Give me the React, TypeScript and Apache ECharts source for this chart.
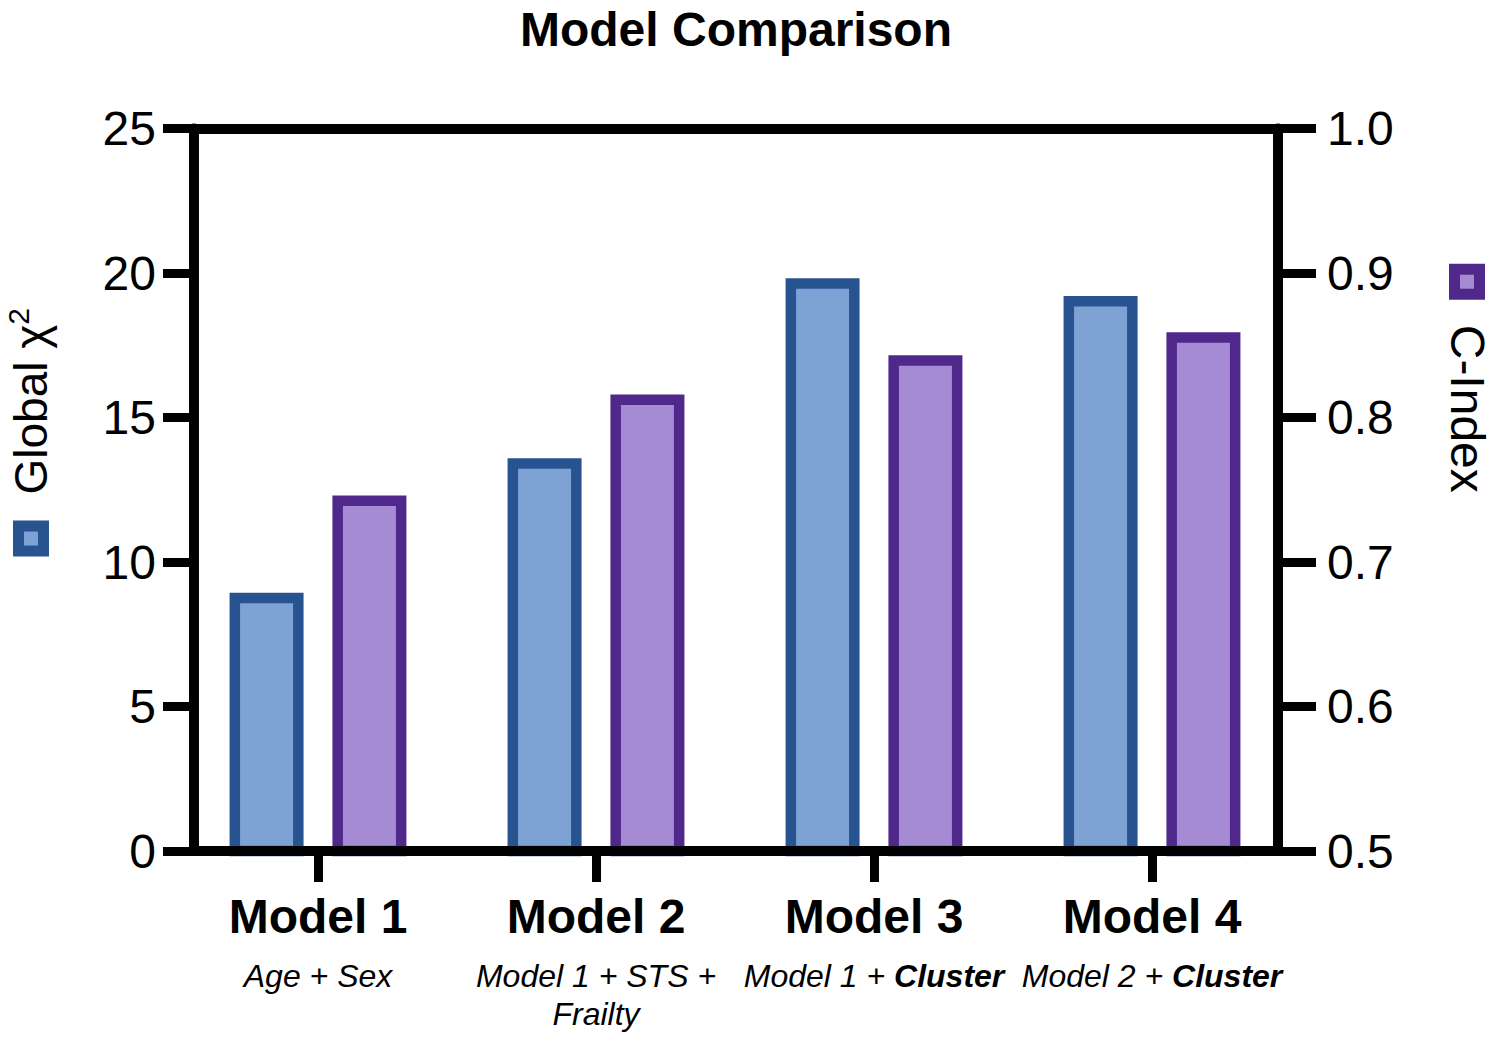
import React, { useEffect, useRef } from 'react';
import * as echarts from 'echarts';

const categories = ['Model 1', 'Model 2', 'Model 3', 'Model 4'];
const subtitlePlain = ['Age + Sex', 'Model 1 + STS +\nFrailty', 'Model 1 + ', 'Model 2 + '];
const subtitleBold = ['', '', 'Cluster', 'Cluster'];
const globalChi2 = [8.94, 13.59, 19.82, 19.2];
const cIndex = [0.746, 0.816, 0.843, 0.859];
const leftRange = [0, 25, 5];
const rightRange = [0.5, 1.0, 0.1];

const FONT = '"Liberation Sans", Arial, Helvetica, sans-serif';
const BLUE_FILL = '#7FA2D5';
const BLUE_EDGE = '#285391';
const PURPLE_FILL = '#A58BD4';
const PURPLE_EDGE = '#50288C';

function catLabel(value: string) {
  const i = categories.indexOf(value);
  const lines = subtitlePlain[i].split('\n');
  let s = `{b|${value}}`;
  lines.forEach((ln, k) => {
    s += '\n';
    if (ln) s += `{i|${ln}}`;
    if (k === lines.length - 1 && subtitleBold[i]) s += `{ib|${subtitleBold[i]}}`;
  });
  return s;
}

export default function App() {
  const ref = useRef<HTMLDivElement>(null);
  useEffect(() => {
    if (!ref.current) return;
    const chart = echarts.init(ref.current, undefined, { renderer: 'svg' });
    const axisLineStyle = { color: '#000', width: 10 };
    const sqStyle = (fill: string, edge: string) => ({
      width: 14,
      height: 14,
      backgroundColor: fill,
      borderColor: edge,
      borderWidth: 11,
      verticalAlign: 'middle',
    });
    chart.setOption({
      animation: false,
      backgroundColor: '#fff',
      title: {
        text: 'Model Comparison',
        left: 736,
        textAlign: 'center',
        top: 5,
        padding: 0,
        textStyle: { fontFamily: FONT, fontSize: 48, fontWeight: 'bold', color: '#000' },
      },
      grid: [
        { left: 194, right: 222, top: 128.5, bottom: 188, outerBoundsMode: 'none', containLabel: false },
        { left: 179, right: 209, top: 128.5, bottom: 188, outerBoundsMode: 'none', containLabel: false },
      ],
      xAxis: [
        {
          gridIndex: 0, type: 'value', position: 'bottom', min: 0, max: 1, z: 10,
          axisLine: { show: true, onZero: false, lineStyle: axisLineStyle },
          axisTick: { show: false }, axisLabel: { show: false }, splitLine: { show: false },
        },
        {
          gridIndex: 0, type: 'value', position: 'top', min: 0, max: 1, z: 10,
          axisLine: { show: true, onZero: false, lineStyle: axisLineStyle },
          axisTick: { show: false }, axisLabel: { show: false }, splitLine: { show: false },
        },
        {
          gridIndex: 1, type: 'category', position: 'bottom', data: categories,
          axisLine: { show: false, onZero: false },
          axisTick: { show: true, alignWithLabel: true, length: 31, lineStyle: { color: '#000', width: 9 } },
          axisLabel: {
            interval: 0,
            margin: 24,
            color: '#000',
            formatter: (v: string) => catLabel(v),
            rich: {
              b: { fontFamily: FONT, fontSize: 48, fontWeight: 'bold', color: '#000', lineHeight: 82 },
              i: { fontFamily: FONT, fontSize: 32, fontStyle: 'italic', color: '#000', lineHeight: 38 },
              ib: { fontFamily: FONT, fontSize: 32, fontStyle: 'italic', fontWeight: 'bold', color: '#000', lineHeight: 38 },
            },
          },
        },
      ],
      yAxis: [
        {
          gridIndex: 0, type: 'value', position: 'left', z: 10,
          min: leftRange[0], max: leftRange[1], interval: leftRange[2],
          axisLine: { show: true, onZero: false, lineStyle: axisLineStyle },
          axisTick: { show: true, length: 31, lineStyle: { color: '#000', width: 9 } },
          axisLabel: { margin: 38, fontFamily: FONT, fontSize: 48, color: '#000' },
          splitLine: { show: false },
          name: '{pad|}{sq|}{gap|}{t|Global χ}{sup|2}',
          nameLocation: 'middle',
          nameRotate: 90,
          nameGap: 135,
          nameTextStyle: {
            rich: {
              pad: { width: 126 },
              sq: sqStyle(BLUE_FILL, BLUE_EDGE),
              gap: { width: 37 },
              t: { fontFamily: FONT, fontSize: 46, color: '#000', lineHeight: 56 },
              sup: { fontFamily: FONT, fontSize: 30, color: '#000', verticalAlign: 'top', lineHeight: 30 },
            },
          },
        },
        {
          gridIndex: 0, type: 'value', position: 'right', z: 10,
          min: rightRange[0], max: rightRange[1], interval: rightRange[2],
          axisLine: { show: true, onZero: false, lineStyle: axisLineStyle },
          axisTick: { show: true, length: 38, lineStyle: { color: '#000', width: 9 } },
          axisLabel: {
            margin: 49, fontFamily: FONT, fontSize: 48, color: '#000',
            formatter: (v: number) => v.toFixed(1),
          },
          splitLine: { show: false },
          name: '{sq|}{gap|}{t|C-Index}{pad|}',
          nameLocation: 'middle',
          nameRotate: -90,
          nameGap: 161,
          nameTextStyle: {
            rich: {
              pad: { width: 212 },
              sq: sqStyle(PURPLE_FILL, PURPLE_EDGE),
              gap: { width: 36 },
              t: { fontFamily: FONT, fontSize: 48, color: '#000', lineHeight: 56 },
            },
          },
        },
        {
          gridIndex: 1, type: 'value', show: false, startValue: -1,
          min: leftRange[0], max: leftRange[1], interval: leftRange[2],
          axisLine: { onZero: false },
          splitLine: { show: false },
        },
        {
          gridIndex: 1, type: 'value', show: false,
          min: rightRange[0], max: rightRange[1], interval: rightRange[2],
          axisLine: { onZero: false },
          splitLine: { show: false },
        },
      ],
      series: [
        {
          name: 'Global χ²',
          type: 'bar',
          xAxisIndex: 2,
          yAxisIndex: 2,
          data: globalChi2,
          barWidth: 74,
          barGap: '39%',
          clip: true,
          itemStyle: { color: BLUE_FILL, borderColor: BLUE_EDGE, borderWidth: 10.5 },
        },
        {
          name: 'C-Index',
          type: 'bar',
          xAxisIndex: 2,
          yAxisIndex: 3,
          data: cIndex,
          barWidth: 74,
          barGap: '39%',
          clip: true,
          itemStyle: { color: PURPLE_FILL, borderColor: PURPLE_EDGE, borderWidth: 10.5 },
        },
      ],
    });
    return () => chart.dispose();
  }, []);
  return (
    <div
      ref={ref}
      style={{ position: 'fixed', left: 0, top: 0, width: 1500, height: 1039, background: '#fff' }}
    />
  );
}
